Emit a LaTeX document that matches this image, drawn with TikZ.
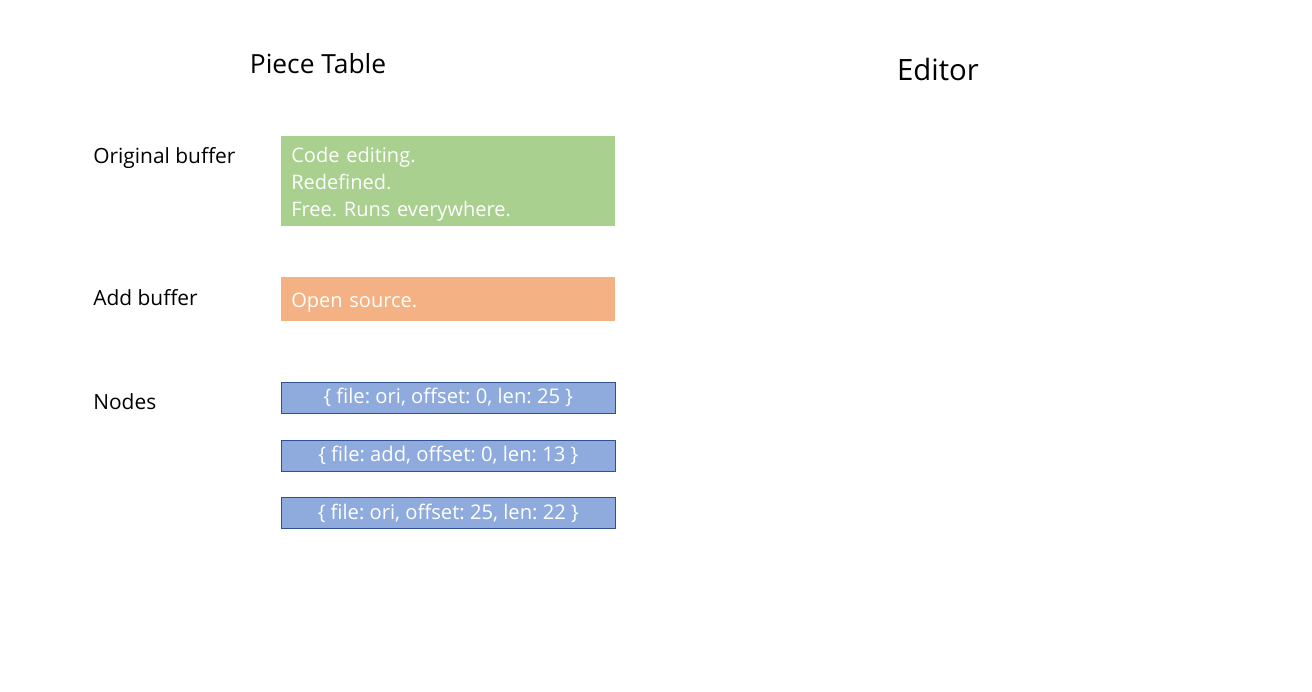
\documentclass[tikz,border=0pt]{standalone}
\usepackage{fontspec}
\setmainfont{Open Sans}
\usetikzlibrary{positioning}
\definecolor{ptgreen}{HTML}{A9D08E}
\definecolor{ptorange}{HTML}{F4B183}
\definecolor{ptblue}{HTML}{8FAADC}
\definecolor{ptdarkblue}{HTML}{2F528F}
\frenchspacing
\begin{document}
\begin{tikzpicture}[x=0.02cm, y=-0.02cm, node distance=0.52cm,
  title/.style={font=\fontsize{15}{18}\selectfont},
  rowlabel/.style={anchor=west, inner sep=0pt, font=\fontsize{11.9}{14}\selectfont},
  buffer/.style={rectangle, anchor=north west, minimum width=6.68cm, text width=6.28cm, inner xsep=0.2cm, inner ysep=0pt, align=left, text=white, text height=12pt, font=\fontsize{11.4}{15.3}\selectfont},
  piece/.style={rectangle, draw=ptdarkblue, fill=ptblue, minimum width=6.68cm, minimum height=0.62cm, inner sep=0pt, text=white, font=\fontsize{11.5}{14}\selectfont}]
  \useasboundingbox[fill=white] (0,0) rectangle (1312,691);
  \node[title] (T) at (318,64) {Piece Table};
  \node[title, font=\fontsize{16.7}{20}\selectfont] (E) at (938,69) {Editor};
  \node[rowlabel] (LO) at (93,158) {Original buffer};
  \node[rowlabel] (LA) at (93,298) {Add buffer};
  \node[rowlabel] (LN) at (93,402) {Nodes};
  \node[buffer, fill=ptgreen, minimum height=1.8cm] (O) at (281,136) {Code editing.\\Redefined.\\Free. Runs everywhere.};
  \node[buffer, fill=ptorange, minimum height=0.88cm] (A) at (281,277) {Open source.};
  \node[piece, anchor=north west] (N1) at (281,382) {\{ file: ori, offset: 0, len: 25 \}};
  \node[piece, below=of N1] (N2) {\{ file: add, offset: 0, len: 13 \}};
  \node[piece, below=of N2] (N3) {\{ file: ori, offset: 25, len: 22 \}};
\end{tikzpicture}
\end{document}
